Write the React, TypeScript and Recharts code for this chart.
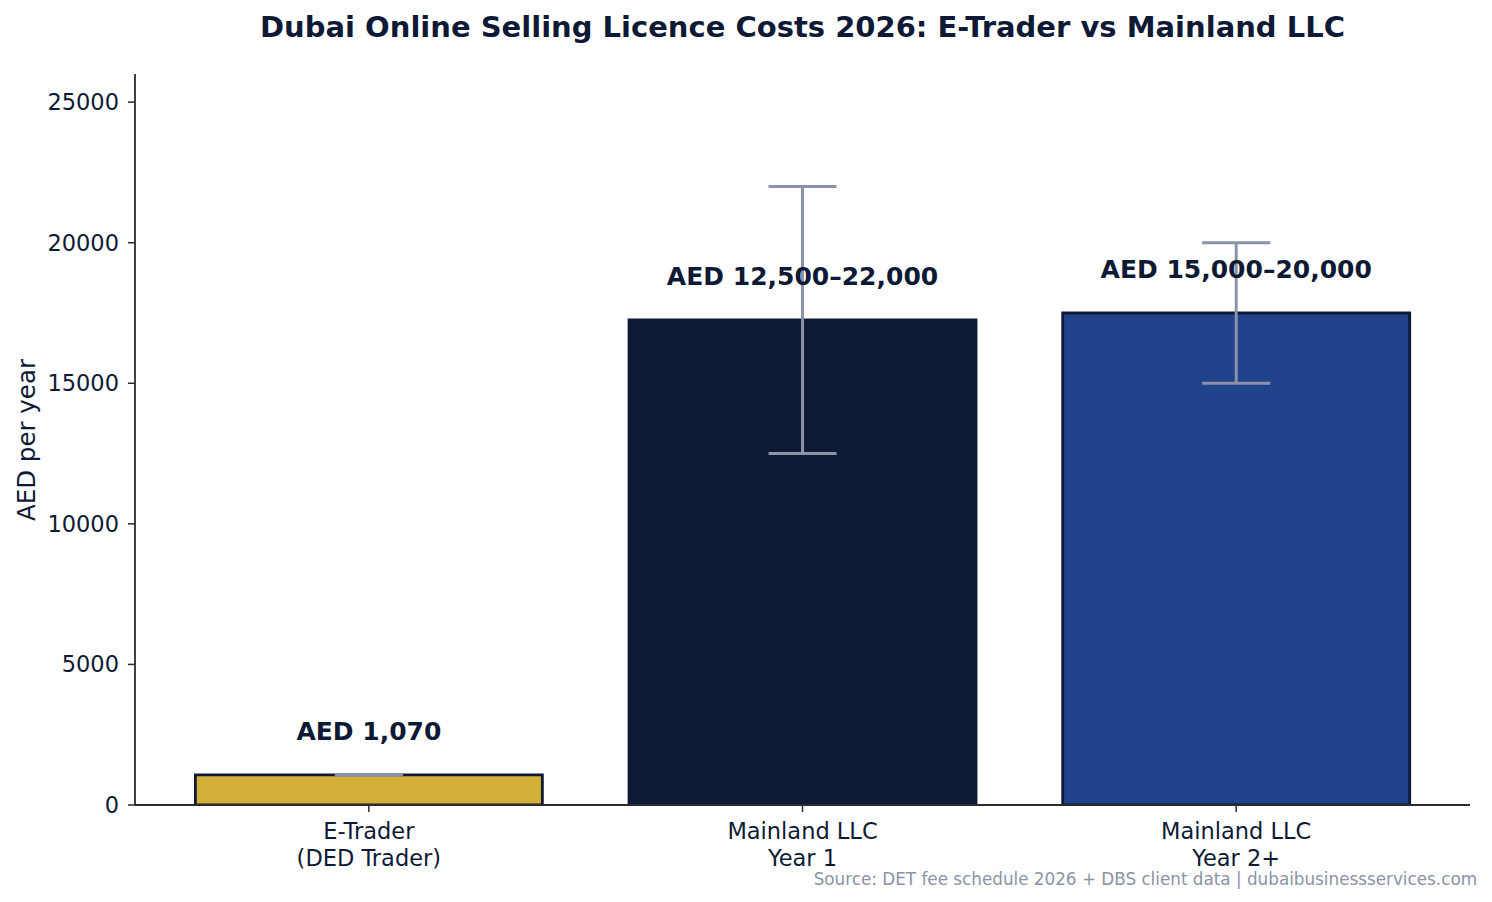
import React from 'react'
import { BarChart, Bar, XAxis, YAxis, Cell, ErrorBar, LabelList } from 'recharts'

const categories = ['E-Trader\n(DED Trader)', 'Mainland LLC\nYear 1', 'Mainland LLC\nYear 2+']
const costs = [1070, 17250, 17500]
const lowErr = [0, 4750, 2500]
const highErr = [0, 4750, 2500]
const labels = ['AED 1,070', 'AED 12,500–22,000', 'AED 15,000–20,000']
const barColors = ['#d4af37', '#0e1a35', '#21438c']
const yTicks = [0, 5000, 10000, 15000, 20000, 25000]

const data = categories.map((name, i) => ({
  name,
  cost: costs[i],
  err: [lowErr[i], highErr[i]],
  label: labels[i],
}))

const NAVY = '#0e1a35'
const FONT = "'DejaVu Sans', sans-serif"

function XTick(props: any) {
  const { x, y, payload } = props
  const lines = String(payload.value).split('\n')
  return (
    <g transform={`translate(${x},${y})`}>
      {lines.map((line: string, i: number) => (
        <text key={i} x={0} y={25 + i * 27} textAnchor="middle" fill={NAVY} fontSize={22.5} fontFamily={FONT}>
          {line}
        </text>
      ))}
    </g>
  )
}

function ValueLabel(props: any) {
  const { x, y, width, value } = props
  return (
    <text x={x + width / 2} y={y - 35} textAnchor="middle" fill={NAVY} fontSize={25} fontWeight="bold" fontFamily={FONT}>
      {value}
    </text>
  )
}

export default function App() {
  return (
    <div style={{ position: 'absolute', left: 0, top: 0, width: 1492, height: 902, background: '#fff', fontFamily: FONT }}>
      <div style={{ position: 'absolute', left: 135, width: 1335, top: 10, textAlign: 'center', fontSize: 29, fontWeight: 'bold', color: NAVY, lineHeight: '34px' }}>
        Dubai Online Selling Licence Costs 2026: E-Trader vs Mainland LLC
      </div>
      <div
        style={{
          position: 'absolute',
          left: 26,
          top: 440,
          transform: 'translate(-50%, -50%) rotate(-90deg)',
          fontSize: 24.5,
          color: NAVY,
          whiteSpace: 'nowrap',
        }}
      >
        AED per year
      </div>
      <BarChart width={1492} height={902} data={data} margin={{ top: 74, right: 22, left: 0, bottom: 0 }} barCategoryGap="10%">
        <XAxis
          dataKey="name"
          height={97}
          padding={{ left: 17, right: 17 }}
          tick={<XTick />}
          tickLine={{ stroke: '#2b2b2b', strokeWidth: 1.5 }}
          tickSize={7}
          axisLine={{ stroke: '#2b2b2b', strokeWidth: 1.8 }}
          interval={0}
        />
        <YAxis
          width={135}
          domain={[0, 26000]}
          ticks={yTicks}
          allowDataOverflow
          tick={{ fill: NAVY, fontSize: 22.5, fontFamily: FONT }}
          tickLine={{ stroke: '#2b2b2b', strokeWidth: 1.5 }}
          tickSize={7}
          tickMargin={9}
          axisLine={{ stroke: '#2b2b2b', strokeWidth: 1.8 }}
        />
        <Bar dataKey="cost" stroke={NAVY} strokeWidth={2.8} isAnimationActive={false}>
          {data.map((d, i) => (
            <Cell key={i} fill={barColors[i]} />
          ))}
          <LabelList dataKey="label" content={<ValueLabel />} />
          <ErrorBar dataKey="err" width={34} stroke="#8a93a8" strokeWidth={3} direction="y" isAnimationActive={false} />
        </Bar>
      </BarChart>
      <div style={{ position: 'absolute', right: 15, top: 869, fontSize: 16.8, color: '#8a93a8', whiteSpace: 'nowrap' }}>
        Source: DET fee schedule 2026 + DBS client data | dubaibusinessservices.com
      </div>
    </div>
  )
}
